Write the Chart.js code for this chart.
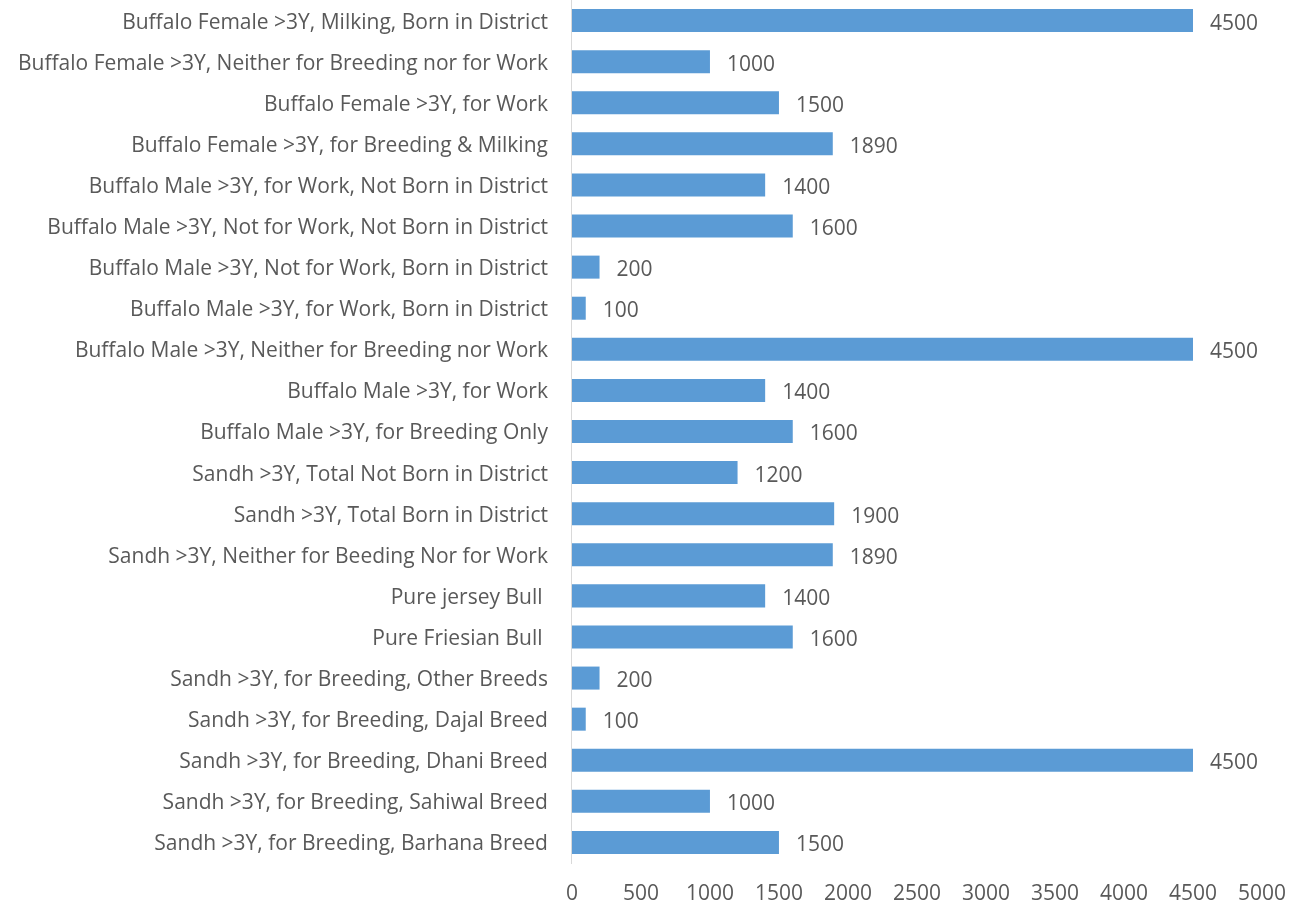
<!DOCTYPE html>
<html>
<head>
<meta charset="utf-8">
<script src="https://cdn.jsdelivr.net/npm/chart.js@4.4.0/dist/chart.umd.min.js"></script>
<style>
html,body{margin:0;padding:0;background:#fff;}
</style>
</head>
<body>
<canvas id="c" width="1301" height="903" style="display:block;width:1301px;height:903px"></canvas>
<script>
const categories = [
  "Buffalo Female >3Y, Milking, Born in District",
  "Buffalo Female >3Y, Neither for Breeding nor for Work",
  "Buffalo Female >3Y, for Work",
  "Buffalo Female >3Y, for Breeding & Milking",
  "Buffalo Male >3Y, for Work, Not Born in District",
  "Buffalo Male >3Y, Not for Work, Not Born in District",
  "Buffalo Male >3Y, Not for Work, Born in District",
  "Buffalo Male >3Y, for Work, Born in District",
  "Buffalo Male >3Y, Neither for Breeding nor Work",
  "Buffalo Male >3Y, for Work",
  "Buffalo Male >3Y, for Breeding Only",
  "Sandh >3Y, Total Not Born in District",
  "Sandh >3Y, Total Born in District",
  "Sandh >3Y, Neither for Beeding Nor for Work",
  "Pure jersey Bull ",
  "Pure Friesian Bull ",
  "Sandh >3Y, for Breeding, Other Breeds",
  "Sandh >3Y, for Breeding, Dajal Breed",
  "Sandh >3Y, for Breeding, Dhani Breed",
  "Sandh >3Y, for Breeding, Sahiwal Breed",
  "Sandh >3Y, for Breeding, Barhana Breed"
];
const values = [4500,1000,1500,1890,1400,1600,200,100,4500,1400,1600,1200,1900,1890,1400,1600,200,100,4500,1000,1500];
const xTicks = [0,500,1000,1500,2000,2500,3000,3500,4000,4500,5000];

const FONT = "'Open Sans', 'Liberation Sans', sans-serif";
const FSIZE = 21;
const TEXT = '#595959';

const labelPlugin = {
  id: 'barLabels',
  afterDatasetsDraw(chart) {
    const ctx = chart.ctx;
    const meta = chart.getDatasetMeta(0);
    ctx.save();
    ctx.font = FSIZE + "px " + FONT;
    ctx.fillStyle = TEXT;
    ctx.textAlign = 'left';
    ctx.textBaseline = 'middle';
    meta.data.forEach((bar, i) => {
      ctx.fillText(String(values[i]), bar.x + 17, bar.y + 3);
    });
    ctx.restore();
  }
};

new Chart(document.getElementById('c'), {
  type: 'bar',
  data: {
    labels: categories,
    datasets: [{
      data: values,
      backgroundColor: '#5B9BD5',
      borderWidth: 0,
      categoryPercentage: 0.56,
      barPercentage: 1.0
    }]
  },
  options: {
    indexAxis: 'y',
    responsive: false,
    animation: false,
    devicePixelRatio: 1,
    layout: { padding: { top: 0, right: 39, bottom: 0, left: 18 } },
    plugins: { legend: { display: false }, tooltip: { enabled: false } },
    scales: {
      x: {
        min: 0, max: 5000,
        afterBuildTicks(axis) { axis.ticks = xTicks.map(v => ({ value: v })); },
        afterFit(scale) { scale.height = 40; scale.paddingRight = 39; scale.paddingLeft = 0; },
        grid: { display: false, drawTicks: false },
        border: { display: false },
        ticks: { color: TEXT, font: { family: FONT, size: FSIZE }, padding: 18, maxRotation: 0, autoSkip: false,
                 callback: (v) => String(v) }
      },
      y: {
        afterFit(scale) { scale.paddingTop = 0; scale.paddingBottom = 0; },
        grid: { display: false, drawOnChartArea: false, drawTicks: true, tickLength: 24, tickColor: 'rgba(0,0,0,0)' },
        border: { display: true, color: '#D9D9D9', width: 1 },
        ticks: { color: TEXT, font: { family: FONT, size: FSIZE }, padding: 0, labelOffset: 2, autoSkip: false }
      }
    }
  },
  plugins: [labelPlugin]
});
</script>
</body>
</html>
